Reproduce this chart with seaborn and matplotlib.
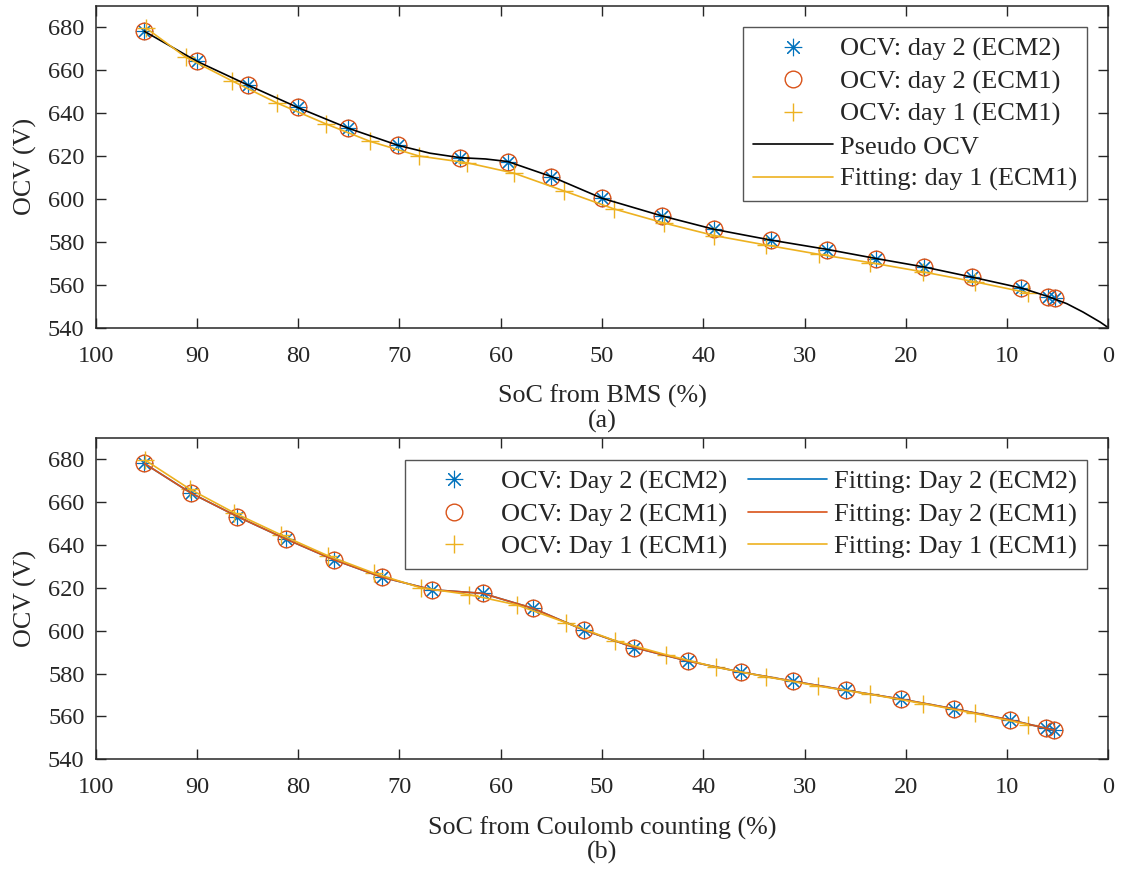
import numpy as np
import pandas as pd
import matplotlib
matplotlib.use("Agg")
import matplotlib.pyplot as plt
import seaborn as sns

# ---------------- data ----------------
# OCV estimates (V) shared by both SoC references
ocv_day2 = [678.0, 664.2, 653.2, 642.7, 633.1, 624.9, 619.1, 617.4, 610.4, 600.3,
            592.1, 585.8, 580.7, 576.4, 572.2, 568.1, 563.5, 558.4, 554.5, 553.7]
ocv_day1 = [679.5, 666.0, 654.9, 644.7, 635.0, 626.8, 620.0, 616.8, 612.0, 603.8,
            595.3, 588.8, 582.9, 578.5, 574.2, 570.3, 566.0, 561.4, 556.2]

# (a) SoC from BMS (%)
soc_bms_day2 = [95.2, 90.0, 85.0, 80.0, 75.1, 70.1, 64.0, 59.3, 55.0, 50.0,
                44.1, 38.9, 33.3, 27.8, 22.9, 18.2, 13.5, 8.6, 6.0, 5.3]
soc_bms_day1 = [95.0, 91.1, 86.5, 82.1, 77.3, 72.9, 68.1, 63.3, 58.7, 53.8,
                48.8, 43.9, 38.9, 33.8, 28.6, 23.5, 18.3, 13.2, 7.9]

# pseudo OCV curve over BMS SoC
pseudo_soc = [95.2, 90.0, 85.0, 80.0, 75.1, 70.1, 67.0, 64.0, 61.5, 59.3, 55.0, 50.0,
              44.1, 38.9, 33.3, 27.8, 22.9, 18.2, 13.5, 8.6, 6.0, 4.1, 2.5, 0.8, 0.0]
pseudo_ocv = [678.1, 664.1, 653.1, 642.5, 633.0, 624.9, 621.3, 619.2, 618.6, 617.4, 610.4, 600.3,
              592.1, 585.8, 580.8, 576.5, 572.2, 568.3, 563.6, 558.5, 554.6, 551.2, 547.3, 542.6, 540.0]

# (b) SoC from Coulomb counting (%)
soc_cc_day2 = [95.2, 90.6, 86.0, 81.2, 76.5, 71.7, 66.8, 61.8, 56.8, 51.8,
               46.8, 41.5, 36.3, 31.1, 25.9, 20.5, 15.2, 9.7, 6.2, 5.4]
soc_cc_day1 = [95.1, 90.7, 86.3, 81.7, 77.1, 72.5, 67.9, 63.1, 58.4, 53.6,
               48.7, 43.7, 38.7, 33.8, 28.7, 23.5, 18.3, 13.2, 7.9]

x_ticks = [100, 90, 80, 70, 60, 50, 40, 30, 20, 10, 0]
y_ticks = [540, 560, 580, 600, 620, 640, 660, 680]

# ---------------- style ----------------
sns.set_theme(style="ticks")
plt.rcParams["font.family"] = ["Liberation Serif", "DejaVu Serif"]

BLUE = "#0072BD"
ORANGE = "#D95319"
YELLOW = "#EDB120"
AXC = "#262626"
FS_TICK = 17.6
FS_LABEL = 18.7
FS_LEG = 19
ASTERISK = (8, 2, 0)

W, H = 1121, 872
fig = plt.figure(figsize=(W / 100, H / 100), dpi=100)
fig.patch.set_facecolor("white")


def px_axes(left, top, right, bottom):
    return fig.add_axes([left / W, 1 - bottom / H, (right - left) / W, (bottom - top) / H])


def style_axes(ax, xlabel):
    ax.set_xlim(100, 0)
    ax.set_ylim(540, 690)
    ax.set_xticks(x_ticks)
    ax.set_yticks(y_ticks)
    ax.tick_params(direction="in", top=True, right=True, length=7.2, width=1.0,
                   color=AXC, labelsize=FS_TICK, labelcolor=AXC)
    ax.tick_params(axis="x", pad=13)
    ax.tick_params(axis="y", pad=8)
    for s in ax.spines.values():
        s.set_visible(True)
        s.set_color(AXC)
        s.set_linewidth(1.1)
    ax.set_xlabel(xlabel, fontsize=FS_LABEL, color=AXC, labelpad=13)
    ax.set_ylabel("OCV (V)", fontsize=FS_LABEL, color=AXC, labelpad=8)
    ax.set_facecolor("white")


def markers(ax, x, y, marker, color, ms, mew=1.0):
    sns.lineplot(x=x, y=y, ax=ax, sort=False, estimator=None, linestyle="none",
                 marker=marker, markersize=ms, markerfacecolor="none",
                 markeredgecolor=color, markeredgewidth=mew, color=color)
    return ax.lines[-1]


def curve(ax, x, y, color, lw=1.2):
    sns.lineplot(x=x, y=y, ax=ax, sort=False, estimator=None, color=color, linewidth=lw)
    return ax.lines[-1]


LEG_KW = dict(loc="upper right", borderaxespad=0, fontsize=FS_LEG, handlelength=3.0,
              handletextpad=0.29, labelspacing=0.33, borderpad=0.38, fancybox=False,
              framealpha=1, edgecolor="#555555")

# ---------------- (a) ----------------
ax1 = px_axes(95.7, 5.7, 1108.3, 327.7)
h1 = markers(ax1, soc_bms_day2, ocv_day2, ASTERISK, BLUE, 12.5, 0.8)
h2 = markers(ax1, soc_bms_day2, ocv_day2, "o", ORANGE, 12)
h3 = markers(ax1, soc_bms_day1, ocv_day1, "+", YELLOW, 13)
h4 = curve(ax1, pseudo_soc, pseudo_ocv, "black")
h5 = curve(ax1, soc_bms_day1, ocv_day1, YELLOW)
style_axes(ax1, "SoC from BMS (%)")
leg1 = ax1.legend([h1, h2, h3, h4, h5],
                  ["OCV: day 2 (ECM2)", "OCV: day 2 (ECM1)", "OCV: day 1 (ECM1)",
                   "Pseudo OCV", "Fitting: day 1 (ECM1)"],
                  bbox_to_anchor=(0.9793, 0.933), **LEG_KW)
leg1.get_frame().set_linewidth(1.0)
fig.text(602 / W, 1 - 421 / H, "(a)", ha="center", va="center", fontsize=FS_LABEL, color=AXC)

# ---------------- (b) ----------------
ax2 = px_axes(95.7, 437.7, 1108.3, 759.3)
g1 = markers(ax2, soc_cc_day2, ocv_day2, ASTERISK, BLUE, 12.5, 0.8)
g2 = markers(ax2, soc_cc_day2, ocv_day2, "o", ORANGE, 12)
g3 = markers(ax2, soc_cc_day1, ocv_day1, "+", YELLOW, 13)
g4 = curve(ax2, soc_cc_day2, ocv_day2, BLUE)
g5 = curve(ax2, soc_cc_day2, ocv_day2, ORANGE)
g6 = curve(ax2, soc_cc_day1, ocv_day1, YELLOW)
style_axes(ax2, "SoC from Coulomb counting (%)")
leg2 = ax2.legend([g1, g2, g3, g4, g5, g6],
                  ["OCV: Day 2 (ECM2)", "OCV: Day 2 (ECM1)", "OCV: Day 1 (ECM1)",
                   "Fitting: Day 2 (ECM2)", "Fitting: Day 2 (ECM1)", "Fitting: Day 1 (ECM1)"],
                  ncol=2, columnspacing=0.76, bbox_to_anchor=(0.9793, 0.9307), **LEG_KW)
leg2.get_frame().set_linewidth(1.0)
fig.text(602 / W, 1 - 852 / H, "(b)", ha="center", va="center", fontsize=FS_LABEL, color=AXC)

fig.savefig("out.png", dpi=100, facecolor="white")
